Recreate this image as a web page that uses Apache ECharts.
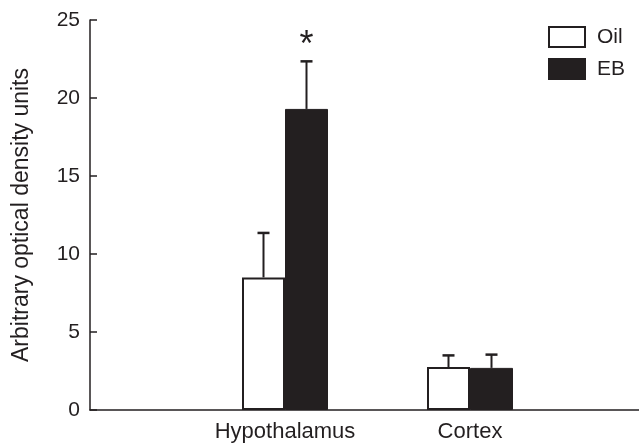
<!DOCTYPE html>
<html>
<head>
<meta charset="utf-8">
<script src="https://cdn.jsdelivr.net/npm/echarts@6/dist/echarts.min.js"></script>
<style>
  html, body { margin: 0; padding: 0; background: #fff; }
  #chart { width: 639px; height: 445px; }
</style>
</head>
<body>
<div id="chart"></div>
<script>
// data
const regions = ['Hypothalamus', 'Cortex'];
const oilMean = [8.5, 2.75];
const oilErrTop = [11.35, 3.5];
const ebMean = [19.3, 2.7];
const ebErrTop = [22.35, 3.55];
const ebMarks = ['*', ''];
const yTicks = { min: 0, max: 25, step: 5 };

const ink = '#231f20';
const font = 'Liberation Sans, Arial, Helvetica, sans-serif';
const barW = 43;

const chart = echarts.init(document.getElementById('chart'));

// error bar drawn from the bar top up to the mean + SE, with a cap
function errorBar(tops, means, side, marks) {
  return function (params, api) {
    const i = api.value(0);
    const base = api.coord([i, means[i]]);
    const top = api.coord([i, tops[i]]);
    const x = base[0] + side * barW / 2;
    const kids = [
      { type: 'line', shape: { x1: x, y1: base[1], x2: x, y2: top[1] }, style: { stroke: ink, lineWidth: 2 } },
      { type: 'line', shape: { x1: x - 6, y1: top[1], x2: x + 6, y2: top[1] }, style: { stroke: ink, lineWidth: 2.5 } }
    ];
    if (marks && marks[i]) {
      kids.push({
        type: 'text',
        style: { text: marks[i], x: x, y: top[1] - 15, align: 'center', verticalAlign: 'middle',
                 font: '36px ' + font, fill: ink }
      });
    }
    return { type: 'group', children: kids };
  };
}

const option = {
  animation: false,
  backgroundColor: '#fff',
  textStyle: { fontFamily: font, color: ink },
  legend: {
    orient: 'vertical',
    left: 543, top: 21,
    itemWidth: 36, itemHeight: 20, itemGap: 10,
    icon: 'rect',
    textStyle: { fontSize: 21, color: ink, fontFamily: font, padding: [0, 0, 0, 7], lineHeight: 20 },
    data: ['Oil', 'EB']
  },
  grid: [
    { left: 90, right: 0, top: 20, bottom: 35 },
    { left: 192.5, right: 76.5, top: 20, bottom: 35 }
  ],
  xAxis: [
    {
      gridIndex: 0, type: 'value', min: 0, max: 1,
      axisLine: { show: true, lineStyle: { color: ink, width: 1.5 } },
      axisTick: { show: false }, axisLabel: { show: false }, splitLine: { show: false }
    },
    {
      gridIndex: 1, type: 'category', data: regions,
      axisLine: { show: false }, axisTick: { show: false }, splitLine: { show: false },
      axisLabel: { fontSize: 22, color: ink, fontFamily: font, margin: 11 }
    }
  ],
  yAxis: [
    {
      gridIndex: 0, type: 'value', min: yTicks.min, max: yTicks.max, interval: yTicks.step,
      name: 'Arbitrary optical density units', nameLocation: 'middle', nameGap: 57,
      nameTextStyle: { fontSize: 23, color: ink, fontFamily: font },
      axisLine: { show: true, lineStyle: { color: ink, width: 1.5 } },
      axisTick: { show: true, inside: true, length: 7, lineStyle: { color: ink, width: 1.5 } },
      axisLabel: { fontSize: 21, color: ink, fontFamily: font, margin: 10 },
      splitLine: { show: false }
    },
    {
      gridIndex: 1, type: 'value', min: yTicks.min, max: yTicks.max, show: false
    }
  ],
  series: [
    {
      name: 'Oil', type: 'bar', xAxisIndex: 1, yAxisIndex: 1,
      data: oilMean, barWidth: barW, barGap: '0%',
      itemStyle: { color: '#fff', borderColor: ink, borderWidth: 2 }
    },
    {
      name: 'EB', type: 'bar', xAxisIndex: 1, yAxisIndex: 1,
      data: ebMean, barWidth: barW, barGap: '0%',
      itemStyle: { color: ink, borderColor: ink, borderWidth: 1 }
    },
    {
      type: 'custom', xAxisIndex: 1, yAxisIndex: 1, z: 3,
      data: regions.map((r, i) => [i, oilErrTop[i]]),
      renderItem: errorBar(oilErrTop, oilMean, -1, null)
    },
    {
      type: 'custom', xAxisIndex: 1, yAxisIndex: 1, z: 3,
      data: regions.map((r, i) => [i, ebErrTop[i]]),
      renderItem: errorBar(ebErrTop, ebMean, 1, ebMarks)
    }
  ]
};

chart.setOption(option);
</script>
</body>
</html>
